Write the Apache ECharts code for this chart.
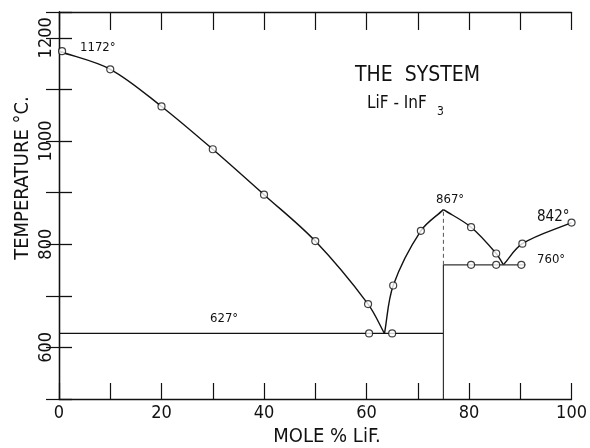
<!DOCTYPE html>
<html>
<head>
<meta charset="utf-8">
<script src="https://cdn.jsdelivr.net/npm/echarts@6/dist/echarts.min.js"></script>
<style>
html,body{margin:0;padding:0;background:#fff;}
#c{width:590px;height:448px;}
</style>
</head>
<body>
<div id="c"></div>
<script>
// Liquidus curves (mole % LiF, temperature °C)
const liquidusInF3 = [[0,1174],[10,1139],[20,1067],[30,984],[40,896],[50,806],[60.3,684],[63.5,627]];
const liquidusRise = [[63.5,627],[65.2,720],[70.6,826],[75,867]];
const liquidusFall = [[75,867],[80.4,833],[85.3,782],[86.7,760]];
const liquidusLiF = [[86.7,760],[90.4,801],[100,842]];
// Eutectic / solidus horizontals
const eutectic627 = [[0,627],[75,627]];
const eutectic760 = [[75,760],[91,760]];
const compoundLower = [[75,500],[75,760]];
const compoundUpper = [[75,760],[75,867]];
// Measured points (open circles)
const measured = [[0.6,1174],[10,1139],[20,1067],[30,984],[40,896],[50,806],[60.3,684],
  [60.5,627],[65,627],[65.2,720],[70.6,826],[80.4,833],[85.3,782],[90.4,801],[100,842],
  [80.4,760],[85.3,760],[90.2,760]];
const xTickLabels = [0,20,40,60,80,100];
const yTickLabels = [600,800,1000,1200];

const curves = [liquidusInF3, liquidusRise, liquidusFall, liquidusLiF];

const FONT = "'DejaVu Sans Condensed','Liberation Sans Narrow','DejaVu Sans',sans-serif";
const INK = '#111';

const chart = echarts.init(document.getElementById('c'), null, {renderer:'canvas'});

function lineSeries(data, opts) {
  return Object.assign({
    type:'line', data:data, showSymbol:false, symbol:'none',
    lineStyle:{color:INK, width:1.4}, silent:true, animation:false, z:2
  }, opts || {});
}

// Smooth curve through pixel points (chord-length weighted Hermite -> cubic Bezier)
function smoothPath(P) {
  const n = P.length;
  const d = [];
  for (let i = 0; i < n - 1; i++) d.push(Math.hypot(P[i+1][0]-P[i][0], P[i+1][1]-P[i][1]) || 1e-6);
  const T = [];
  for (let i = 0; i < n; i++) {
    if (i === 0) T.push([(P[1][0]-P[0][0])/d[0], (P[1][1]-P[0][1])/d[0]]);
    else if (i === n-1) T.push([(P[i][0]-P[i-1][0])/d[i-1], (P[i][1]-P[i-1][1])/d[i-1]]);
    else {
      const s = d[i-1] + d[i];
      T.push([(P[i+1][0]-P[i-1][0])/s, (P[i+1][1]-P[i-1][1])/s]);
    }
  }
  let s = 'M' + P[0][0] + ' ' + P[0][1];
  for (let i = 0; i < n - 1; i++) {
    const k = d[i] / 3;
    const c1 = [P[i][0] + T[i][0]*k, P[i][1] + T[i][1]*k];
    const c2 = [P[i+1][0] - T[i+1][0]*k, P[i+1][1] - T[i+1][1]*k];
    s += ' C' + c1[0] + ' ' + c1[1] + ' ' + c2[0] + ' ' + c2[1] + ' ' + P[i+1][0] + ' ' + P[i+1][1];
  }
  return s;
}

const option = {
  backgroundColor:'#fff',
  animation:false,
  grid:{left:59, right:13, top:12, bottom:49},
  xAxis:[{
    type:'value', min:0, max:100, interval:10, position:'bottom',
    axisLine:{show:true, lineStyle:{color:INK, width:1.3}},
    axisTick:{show:true, inside:true, length:16, lineStyle:{color:INK, width:1.2}},
    splitLine:{show:false},
    axisLabel:{color:INK, fontFamily:FONT, fontSize:18, margin:5,
      formatter:v => xTickLabels.indexOf(v) >= 0 ? String(v) : ''}
  },{
    type:'value', min:0, max:100, interval:10, position:'top',
    axisLine:{show:true, lineStyle:{color:INK, width:1.3}},
    axisTick:{show:true, inside:true, length:18, lineStyle:{color:INK, width:1.2}},
    splitLine:{show:false}, axisLabel:{show:false}
  }],
  yAxis:[{
    type:'value', min:500, max:1250, interval:100, position:'left',
    axisLine:{show:true, lineStyle:{color:INK, width:1.3}},
    axisTick:{show:true, inside:true, length:13, lineStyle:{color:INK, width:1.3}},
    splitLine:{show:false},
    axisLabel:{color:INK, fontFamily:FONT, fontSize:18, rotate:90, margin:4,
      formatter:v => yTickLabels.indexOf(v) >= 0 ? String(v) : ''}
  },{
    type:'value', min:500, max:1250, interval:100, position:'right',
    axisLine:{show:true, lineStyle:{color:INK, width:1.3}},
    axisTick:{show:true, inside:true, length:13, lineStyle:{color:INK, width:1.2}},
    splitLine:{show:false}, axisLabel:{show:false}
  }],
  series:[
    {
      type:'custom', silent:true, animation:false, z:2,
      data: curves.map((c, i) => [c[0][0], c[0][1], i]),
      encode:{x:0, y:1},
      renderItem: function(params, api) {
        const pts = curves[api.value(2)].map(p => api.coord(p));
        return {type:'path', shape:{pathData: smoothPath(pts)},
          style:{stroke:INK, fill:'none', lineWidth:1.4}};
      }
    },
    lineSeries(eutectic627, {lineStyle:{color:INK, width:1.2}}),
    lineSeries(eutectic760, {lineStyle:{color:'#333', width:1.2}}),
    lineSeries(compoundLower, {lineStyle:{color:'#333', width:1.2}}),
    lineSeries(compoundUpper, {lineStyle:{color:'#555', width:1, type:[4,3]}}),
    {
      type:'scatter', data:measured, symbol:'circle', symbolSize:7,
      itemStyle:{color:'#fff', borderColor:INK, borderWidth:1.2},
      silent:true, z:5, animation:false
    }
  ],
  graphic:[
    {type:'text', x:23, y:178, rotation:Math.PI/2, z:10,
      style:{text:'TEMPERATURE °C.', font:"20px " + FONT, fill:INK, textAlign:'center', textVerticalAlign:'middle'}},
    {type:'text', x:327, y:437, style:{text:'MOLE % LiF.', font:"20px " + FONT, fill:INK, textAlign:'center', textVerticalAlign:'middle'}},
    {type:'text', x:80, y:48, style:{text:'1172°', font:"13px " + FONT, fill:INK, textVerticalAlign:'middle'}},
    {type:'text', x:355, y:76, style:{text:'THE  SYSTEM', font:"21px " + FONT, fill:INK, textVerticalAlign:'middle'}},
    {type:'text', x:367, y:104, style:{text:'LiF - InF', font:"17px " + FONT, fill:INK, textVerticalAlign:'middle'}},
    {type:'text', x:437, y:112, style:{text:'3', font:"12px " + FONT, fill:INK, textVerticalAlign:'middle'}},
    {type:'text', x:436, y:200, style:{text:'867°', font:"13px " + FONT, fill:INK, textVerticalAlign:'middle'}},
    {type:'text', x:537, y:217, style:{text:'842°', font:"15px " + FONT, fill:INK, textVerticalAlign:'middle'}},
    {type:'text', x:537, y:260, style:{text:'760°', font:"13px " + FONT, fill:INK, textVerticalAlign:'middle'}},
    {type:'text', x:210, y:319, style:{text:'627°', font:"13px " + FONT, fill:INK, textVerticalAlign:'middle'}}
  ]
};
chart.setOption(option);
</script>
</body>
</html>
